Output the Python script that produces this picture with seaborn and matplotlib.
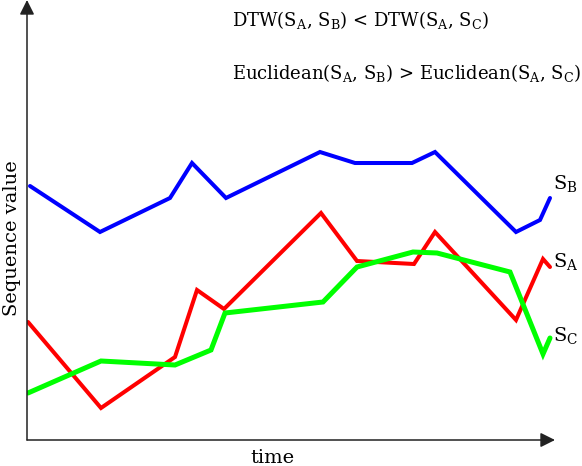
import matplotlib
matplotlib.use("Agg")
import matplotlib.pyplot as plt
import seaborn as sns

# values (time steps, sequence value)
sb_time = [3, 73, 143, 165, 199, 293, 328, 385, 408, 489, 513, 523]
sb_value = [254, 208, 242, 277, 242, 288, 277, 277, 288, 208, 220, 242]

sa_time = [1, 74, 148, 170, 197, 294, 330, 387, 408, 489, 516, 523]
sa_value = [118, 32, 83, 150, 131, 227, 179, 176, 208, 120, 181, 173]

sc_time = [1, 74, 148, 184, 198, 296, 330, 386, 410, 483, 516, 523]
sc_value = [47, 79, 75, 90, 127, 138, 173, 188, 187, 168, 86, 102]

labels = [r"$\mathrm{S_B}$", r"$\mathrm{S_A}$", r"$\mathrm{S_C}$"]
notes = [r"DTW($\mathrm{S_A}$, $\mathrm{S_B}$) < DTW($\mathrm{S_A}$, $\mathrm{S_C}$)",
         r"Euclidean($\mathrm{S_A}$, $\mathrm{S_B}$) > Euclidean($\mathrm{S_A}$, $\mathrm{S_C}$)"]

sns.set_style("white")
serif = "DejaVu Serif"
plt.rcParams["font.family"] = [serif]
plt.rcParams["mathtext.fontset"] = "custom"
plt.rcParams["mathtext.rm"] = serif
plt.rcParams["text.color"] = "black"

fig = plt.figure(figsize=(5.82, 4.66), dpi=100)
ax = fig.add_axes([27 / 582, 26 / 466, 555 / 582, 440 / 466])
ax.set_xlim(0, 555)
ax.set_ylim(0, 440)
ax.axis("off")

sns.lineplot(x=sb_time, y=sb_value, ax=ax, color="#0000ff", linewidth=2.9,
             sort=False, solid_joinstyle="miter")
sns.lineplot(x=sa_time, y=sa_value, ax=ax, color="#ff0000", linewidth=2.9,
             sort=False, solid_joinstyle="miter")
sns.lineplot(x=sc_time, y=sc_value, ax=ax, color="#00ff00", linewidth=3.6,
             sort=False, solid_joinstyle="miter")

# arrow axes
arrow = dict(arrowstyle="-|>", color="#222222", lw=1.1, mutation_scale=22,
             shrinkA=0, shrinkB=0)
ax.annotate("", xy=(528, 0), xytext=(0, 0), arrowprops=arrow, annotation_clip=False)
ax.annotate("", xy=(0, 440), xytext=(0, 0), arrowprops=arrow, annotation_clip=False)

# series labels
ax.text(526, 256, labels[0], fontsize=14, va="center", clip_on=False)
ax.text(526, 178, labels[1], fontsize=14, va="center", clip_on=False)
ax.text(526, 105, labels[2], fontsize=14, va="center", clip_on=False)

fig.text(232 / 582, 1 - 20 / 466, notes[0], fontsize=13, va="center")
fig.text(232 / 582, 1 - 73 / 466, notes[1], fontsize=13, va="center")

fig.text(272 / 582, 1 - 458 / 466, "time", fontsize=14, ha="center", va="center")
fig.text(12 / 582, 1 - 238 / 466, "Sequence value", fontsize=14, ha="center",
         va="center", rotation=90)

fig.savefig("out.png", dpi=100)
